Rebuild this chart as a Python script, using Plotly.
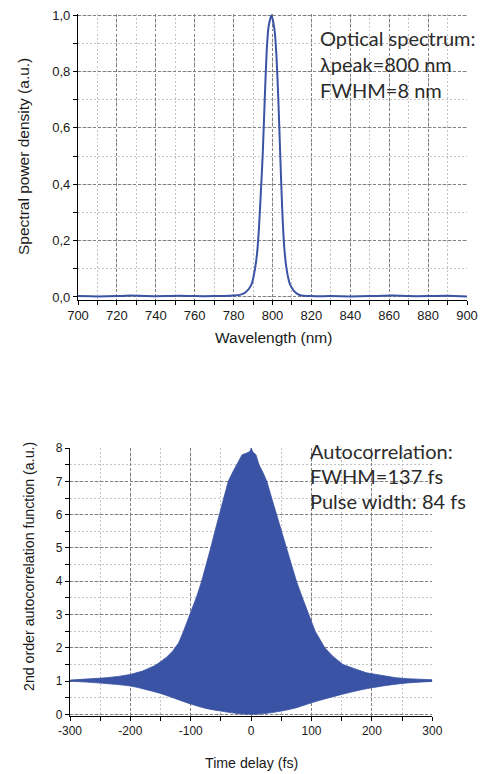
import plotly.graph_objects as go

# ---------- Top chart: optical spectrum ----------
wavelength_nm = [700, 710, 720, 727, 735, 745, 752, 760, 770, 778, 782, 784, 786, 788, 789.5,
                 791, 792, 793, 794, 795, 796, 797, 798, 799.5, 801, 802, 803, 804, 805, 806,
                 807, 808, 809, 811, 813, 815, 820, 830, 840, 850, 862, 870, 880, 890, 900]
spectral_power = [0.003, 0.002, 0.003, 0.005, 0.003, 0.003, 0.004, 0.003, 0.003, 0.004, 0.006, 0.009,
                  0.016, 0.03, 0.05, 0.1, 0.15, 0.24, 0.37, 0.51, 0.7, 0.87, 0.96, 1.0, 0.95, 0.86,
                  0.7, 0.5, 0.31, 0.18, 0.11, 0.07, 0.045, 0.022, 0.01, 0.005, 0.003, 0.003, 0.002,
                  0.003, 0.005, 0.003, 0.003, 0.004, 0.002]

top_xticks = [700, 720, 740, 760, 780, 800, 820, 840, 860, 880, 900]
top_yticks = [0.0, 0.2, 0.4, 0.6, 0.8, 1.0]
top_ytick_text = ["0,0", "0,2", "0,4", "0,6", "0,8", "1,0"]

# ---------- Bottom chart: interferometric autocorrelation (envelopes) ----------
delay_upper_fs = [-300, -280, -260, -240, -220, -200, -180, -170, -160, -150, -140, -130, -120,
                  -112, -101, -90, -82, -75, -67, -60, -53, -45, -38, -30, -24, -15, -8, -2, 0,
                  3, 8, 13, 20, 26, 34, 42, 50, 59, 67, 75, 85, 96, 106, 114, 122, 135, 152,
                  170, 191, 200, 220, 240, 260, 280, 300]
ac_upper = [1.03, 1.05, 1.07, 1.1, 1.14, 1.2, 1.3, 1.37, 1.46, 1.58, 1.72, 1.9, 2.15,
            2.5, 3.0, 3.55, 4.0, 4.45, 5.0, 5.5, 6.0, 6.5, 7.0, 7.3, 7.5, 7.8, 7.85, 7.9, 8.0,
            7.88, 7.8, 7.5, 7.25, 7.0, 6.5, 6.0, 5.5, 5.0, 4.5, 4.0, 3.5, 3.0, 2.5, 2.25, 2.0,
            1.75, 1.5, 1.38, 1.25, 1.22, 1.15, 1.1, 1.07, 1.05, 1.04]

delay_lower_fs = [-300, -250, -200, -175, -150, -125, -100, -75, -50, -25, 0,
                  25, 50, 75, 100, 125, 150, 175, 200, 250, 300]
ac_lower = [1.0, 0.94, 0.85, 0.75, 0.63, 0.47, 0.31, 0.18, 0.1, 0.03, 0.0,
            0.03, 0.1, 0.2, 0.35, 0.48, 0.6, 0.71, 0.8, 0.93, 0.99]

bot_xticks = [-300, -200, -100, 0, 100, 200, 300]
bot_xtick_text = ["-300", "-200", "-100", "0", "100", "200", "300"]
bot_yticks = [0, 1, 2, 3, 4, 5, 6, 7, 8]

BLUE = "#3a53a4"
SANS = "Arial, 'Liberation Sans', sans-serif"
TOP_TICKFONT = dict(family=SANS, size=13, color="#1a1a1a")
BOT_TICKFONT = dict(family=SANS, size=12, color="#1a1a1a")
TOP_TITLEFONT = dict(family=SANS, size=15.5, color="#1a1a1a")
BOT_TITLEFONT = dict(family=SANS, size=14.2, color="#1a1a1a")
TEXTFONT = dict(family="Lato", size=20, color="#2b2b2b")
MAJOR_GRID = "#808080"
MINOR_GRID = "#c4c4c4"

fig = go.Figure()

fig.add_trace(go.Scatter(x=wavelength_nm, y=spectral_power, mode="lines",
                         line=dict(color=BLUE, width=2, shape="spline", smoothing=0.6),
                         xaxis="x", yaxis="y", showlegend=False, hoverinfo="skip"))

fig.add_trace(go.Scatter(x=delay_lower_fs, y=ac_lower, mode="lines",
                         line=dict(color=BLUE, width=0.8, shape="spline"),
                         xaxis="x2", yaxis="y2", showlegend=False, hoverinfo="skip"))
fig.add_trace(go.Scatter(x=delay_upper_fs, y=ac_upper, mode="lines",
                         line=dict(color=BLUE, width=0.8),
                         fill="tonexty", fillcolor=BLUE,
                         xaxis="x2", yaxis="y2", showlegend=False, hoverinfo="skip"))

W, H = 485, 774


def px_x(p):
    return p / W


def px_y(p):
    return 1 - p / H


common_axis = dict(showline=True, linecolor="black", linewidth=1.2, ticks="outside",
                   ticklen=4, tickwidth=1, tickcolor="black",
                   showgrid=True, gridcolor=MAJOR_GRID, griddash="3px,2px", gridwidth=1,
                   zeroline=False, mirror=False, fixedrange=True, automargin=False)


def minor(d):
    return dict(dtick=d, ticks="outside", ticklen=4, tickcolor="black",
                showgrid=True, gridcolor=MINOR_GRID, griddash="2px,2px", gridwidth=1)


fig.update_layout(
    width=W, height=H,
    margin=dict(l=0, r=0, t=0, b=0, autoexpand=False),
    paper_bgcolor="white", plot_bgcolor="white",
    xaxis=dict(**common_axis, domain=[px_x(78), px_x(467)], range=[700, 900], tickfont=TOP_TICKFONT,
               tickvals=top_xticks, anchor="y", minor=minor(10)),
    yaxis=dict(**common_axis, domain=[px_y(299.5), px_y(13.5)], range=[-0.009, 1.006], tickfont=TOP_TICKFONT,
               tickvals=top_yticks, ticktext=top_ytick_text, anchor="x", minor=minor(0.1)),
    xaxis2=dict(**common_axis, domain=[px_x(70), px_x(432.3)], range=[-300, 300], tickfont=BOT_TICKFONT,
                tickvals=bot_xticks, ticktext=bot_xtick_text, anchor="y2", minor=minor(50)),
    yaxis2=dict(**common_axis, domain=[px_y(715.7), px_y(447.5)], range=[-0.04, 8.02], tickfont=BOT_TICKFONT,
                tickvals=bot_yticks, anchor="x2", minor=minor(0.5)),
)

annotations = [
    dict(text="Wavelength (nm)", x=px_x(273), y=px_y(338), font=TOP_TITLEFONT),
    dict(text="Spectral power density (a.u.)", x=px_x(23), y=px_y(157), textangle=-90, font=TOP_TITLEFONT),
    dict(text="Time delay (fs)", x=px_x(251), y=px_y(763), font=BOT_TITLEFONT),
    dict(text="2nd order autocorrelation function (a.u.)", x=px_x(29), y=px_y(567), textangle=-90,
         font=BOT_TITLEFONT),
]
for i, line in enumerate(["Optical spectrum:", "λpeak=800 nm", "FWHM=8 nm"]):
    annotations.append(dict(text=line, x=px_x(318), y=px_y(38 + 26 * i), xanchor="left", font=TEXTFONT))
for i, line in enumerate(["Autocorrelation:", "FWHM=137 fs", "Pulse width: 84 fs"]):
    annotations.append(dict(text=line, x=px_x(308), y=px_y(451 + 25 * i), xanchor="left", font=TEXTFONT))

for a in annotations:
    a.setdefault("xanchor", "center")
    a.update(xref="paper", yref="paper", yanchor="middle", showarrow=False)
fig.update_layout(annotations=annotations)

fig.write_html("out.html", config={"displayModeBar": False},
               post_script="document.body.style.margin='0';document.body.style.overflow='hidden';")
